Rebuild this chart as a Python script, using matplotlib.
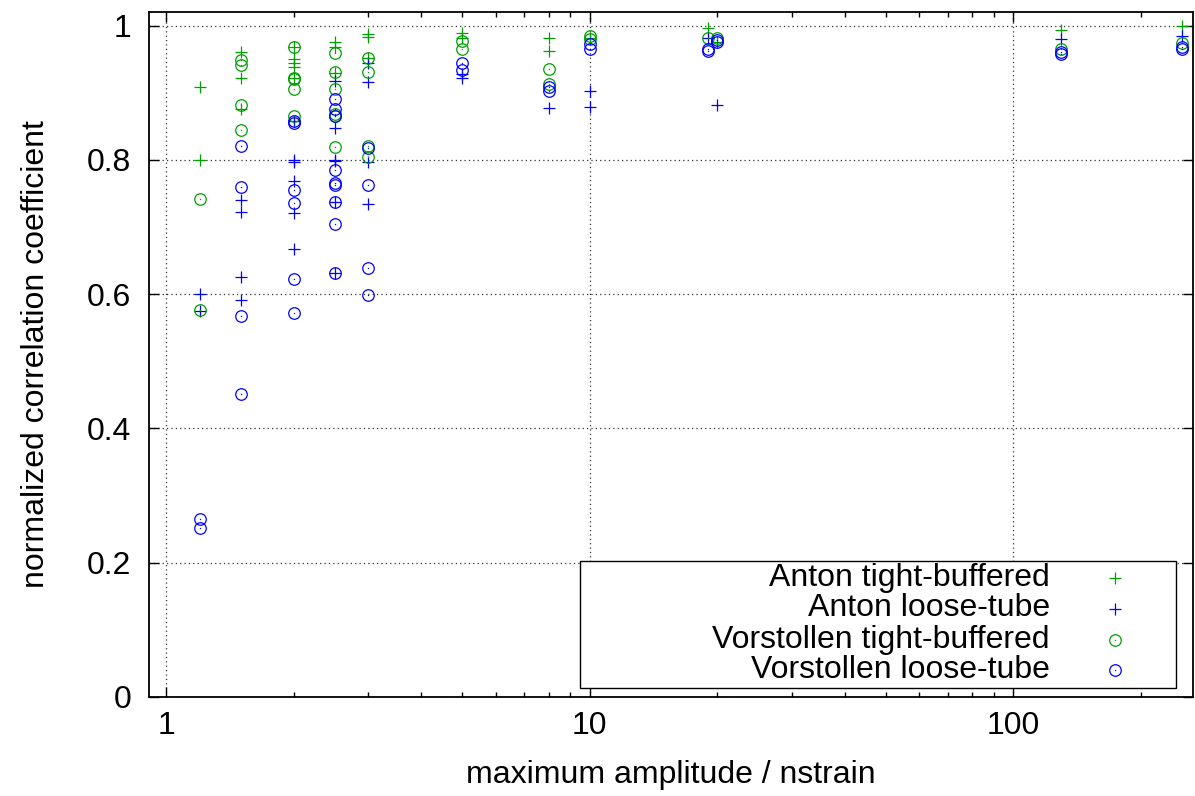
import matplotlib
matplotlib.use("Agg")
import matplotlib.pyplot as plt
from matplotlib.ticker import FixedLocator, FuncFormatter, LogLocator, NullFormatter
from matplotlib.patches import Rectangle
from matplotlib.lines import Line2D

plt.rcParams['font.family'] = ['Liberation Sans', 'DejaVu Sans']

# ---- data ----
anton_tb_x = [1.2, 1.2, 1.5, 1.5, 1.5, 2, 2, 2, 2, 2, 2.5, 2.5, 2.5, 3, 3, 3,
              5, 5, 8, 8, 10, 19, 20, 130, 250]
anton_tb_y = [0.908, 0.800, 0.961, 0.922, 0.876, 0.969, 0.951, 0.945, 0.939, 0.922,
              0.975, 0.968, 0.929, 0.987, 0.983, 0.952,
              0.989, 0.982, 0.982, 0.962, 0.982, 0.996, 0.975, 0.994, 0.999]

anton_lt_x = [1.2, 1.2, 1.5, 1.5, 1.5, 1.5, 2, 2, 2, 2, 2, 2,
              2.5, 2.5, 2.5, 2.5, 2.5, 2.5, 3, 3, 3, 3,
              5, 5, 8, 10, 10, 19, 20, 130, 250]
anton_lt_y = [0.600, 0.575, 0.740, 0.723, 0.625, 0.5915,
              0.858, 0.800, 0.797, 0.768, 0.7206, 0.667,
              0.917, 0.847, 0.800, 0.798, 0.738, 0.632,
              0.945, 0.9166, 0.7975, 0.734,
              0.928, 0.922, 0.877, 0.902, 0.879, 0.981, 0.882, 0.980, 0.984]

vorst_tb_x = [1.2, 1.2, 1.5, 1.5, 1.5, 1.5, 2, 2, 2, 2, 2,
              2.5, 2.5, 2.5, 2.5, 2.5, 2.5, 3, 3, 3, 3,
              5, 5, 8, 8, 10, 10, 19, 20, 130, 250]
vorst_tb_y = [0.742, 0.5766, 0.949, 0.9415, 0.882, 0.844,
              0.969, 0.922, 0.920, 0.905, 0.866,
              0.960, 0.931, 0.906, 0.868, 0.865, 0.820,
              0.952, 0.931, 0.821, 0.805,
              0.977, 0.966, 0.9355, 0.9127, 0.985, 0.980, 0.981, 0.982, 0.966, 0.974]

vorst_lt_x = [1.2, 1.2, 1.5, 1.5, 1.5, 1.5, 2, 2, 2, 2, 2, 2,
              2.5, 2.5, 2.5, 2.5, 2.5, 2.5, 2.5, 2.5, 2.5, 3, 3, 3, 3,
              5, 5, 8, 8, 10, 10, 19, 19, 20, 20, 130, 130, 250, 250]
vorst_lt_y = [0.265, 0.2515, 0.821, 0.759, 0.568, 0.4515,
              0.858, 0.855, 0.755, 0.736, 0.623, 0.572,
              0.891, 0.8755, 0.866, 0.785, 0.766, 0.763, 0.738, 0.705, 0.632,
              0.818, 0.763, 0.639, 0.599,
              0.944, 0.934, 0.908, 0.902, 0.972, 0.966, 0.966, 0.962, 0.979, 0.976,
              0.961, 0.958, 0.969, 0.966]

labels = ["Anton tight-buffered", "Anton loose-tube",
          "Vorstollen tight-buffered", "Vorstollen loose-tube"]
x_ticks = [1, 10, 100]
y_ticks = [0, 0.2, 0.4, 0.6, 0.8, 1.0]

GREEN = '#00a000'
BLUE = '#0000ff'
FS = 23

fig = plt.figure(figsize=(11.95, 7.96), dpi=100)
ax = fig.add_axes([148.5 / 1195, 1 - 697 / 796, (1193 - 148.5) / 1195, (697 - 12) / 796])

series = [
    (anton_tb_x, anton_tb_y, GREEN, '+'),
    (anton_lt_x, anton_lt_y, BLUE, '+'),
    (vorst_tb_x, vorst_tb_y, GREEN, 'o'),
    (vorst_lt_x, vorst_lt_y, BLUE, 'o'),
]
for xs, ys, c, m in series:
    if m == '+':
        ax.plot(xs, ys, linestyle='none', marker='+', markersize=9, markeredgewidth=0.9,
                color=c, zorder=3)
    else:
        ax.plot(xs, ys, linestyle='none', marker='o', markersize=8.3, markeredgewidth=0.9,
                markerfacecolor='none', markeredgecolor=c, zorder=3)
        ax.plot(xs, ys, linestyle='none', marker='o', markersize=1.0, markeredgewidth=0,
                markerfacecolor=c, zorder=3)

ax.set_xscale('log')
ax.set_xlim(0.907, 266)
ax.set_ylim(0, 1.0204)

ax.xaxis.set_major_locator(FixedLocator(x_ticks))
ax.xaxis.set_major_formatter(FuncFormatter(lambda v, p: f"{v:g}"))
ax.xaxis.set_minor_locator(LogLocator(base=10, subs=range(2, 10), numticks=20))
ax.xaxis.set_minor_formatter(NullFormatter())
ax.yaxis.set_major_locator(FixedLocator(y_ticks))
ax.yaxis.set_major_formatter(FuncFormatter(lambda v, p: f"{v:g}"))

ax.tick_params(which='both', direction='in', top=True, right=True, labelsize=FS,
               color='black', width=1.0)
ax.tick_params(which='major', length=7.5)
ax.tick_params(which='minor', length=3.8)
ax.tick_params(axis='x', which='major', pad=10)
ax.tick_params(axis='y', which='major', pad=12.5)

ax.grid(True, which='major', linestyle=(0, (1, 2.5)), color='#303030', linewidth=0.9)
ax.set_axisbelow(True)
for s in ax.spines.values():
    s.set_linewidth(1.3)

ax.set_xlabel("maximum amplitude / nstrain", fontsize=FS, labelpad=14)
ax.set_ylabel("normalized correlation coefficient", fontsize=FS, labelpad=26)

# legend box drawn manually (right-aligned text, sample to the right)
W = 1193 - 148.5
H = 697 - 12
def axx(px):
    return (px - 148.5) / W
def axy(py):
    return (697 - py) / H

ax.add_patch(Rectangle((axx(580), axy(687.5)), axx(1176) - axx(580), axy(561) - axy(687.5),
                       transform=ax.transAxes, facecolor='white', edgecolor='black',
                       linewidth=1.0, zorder=5))
rows_y = [578, 608.5, 640, 670]
for lab, yy, (xs, ys, c, m) in zip(labels, rows_y, series):
    ax.text(axx(1050), axy(yy), lab, transform=ax.transAxes, ha='right', va='center',
            fontsize=FS, zorder=6)
    if m == '+':
        ax.add_line(Line2D([axx(1115)], [axy(yy)], transform=ax.transAxes, linestyle='none',
                           marker='+', markersize=9, markeredgewidth=0.9, color=c, zorder=6))
    else:
        ax.add_line(Line2D([axx(1115)], [axy(yy)], transform=ax.transAxes, linestyle='none',
                           marker='o', markersize=8.3, markeredgewidth=0.9,
                           markerfacecolor='none', markeredgecolor=c, zorder=6))
        ax.add_line(Line2D([axx(1115)], [axy(yy)], transform=ax.transAxes, linestyle='none',
                           marker='o', markersize=1.0, markeredgewidth=0,
                           markerfacecolor=c, zorder=6))

fig.savefig("out.png", dpi=100)
